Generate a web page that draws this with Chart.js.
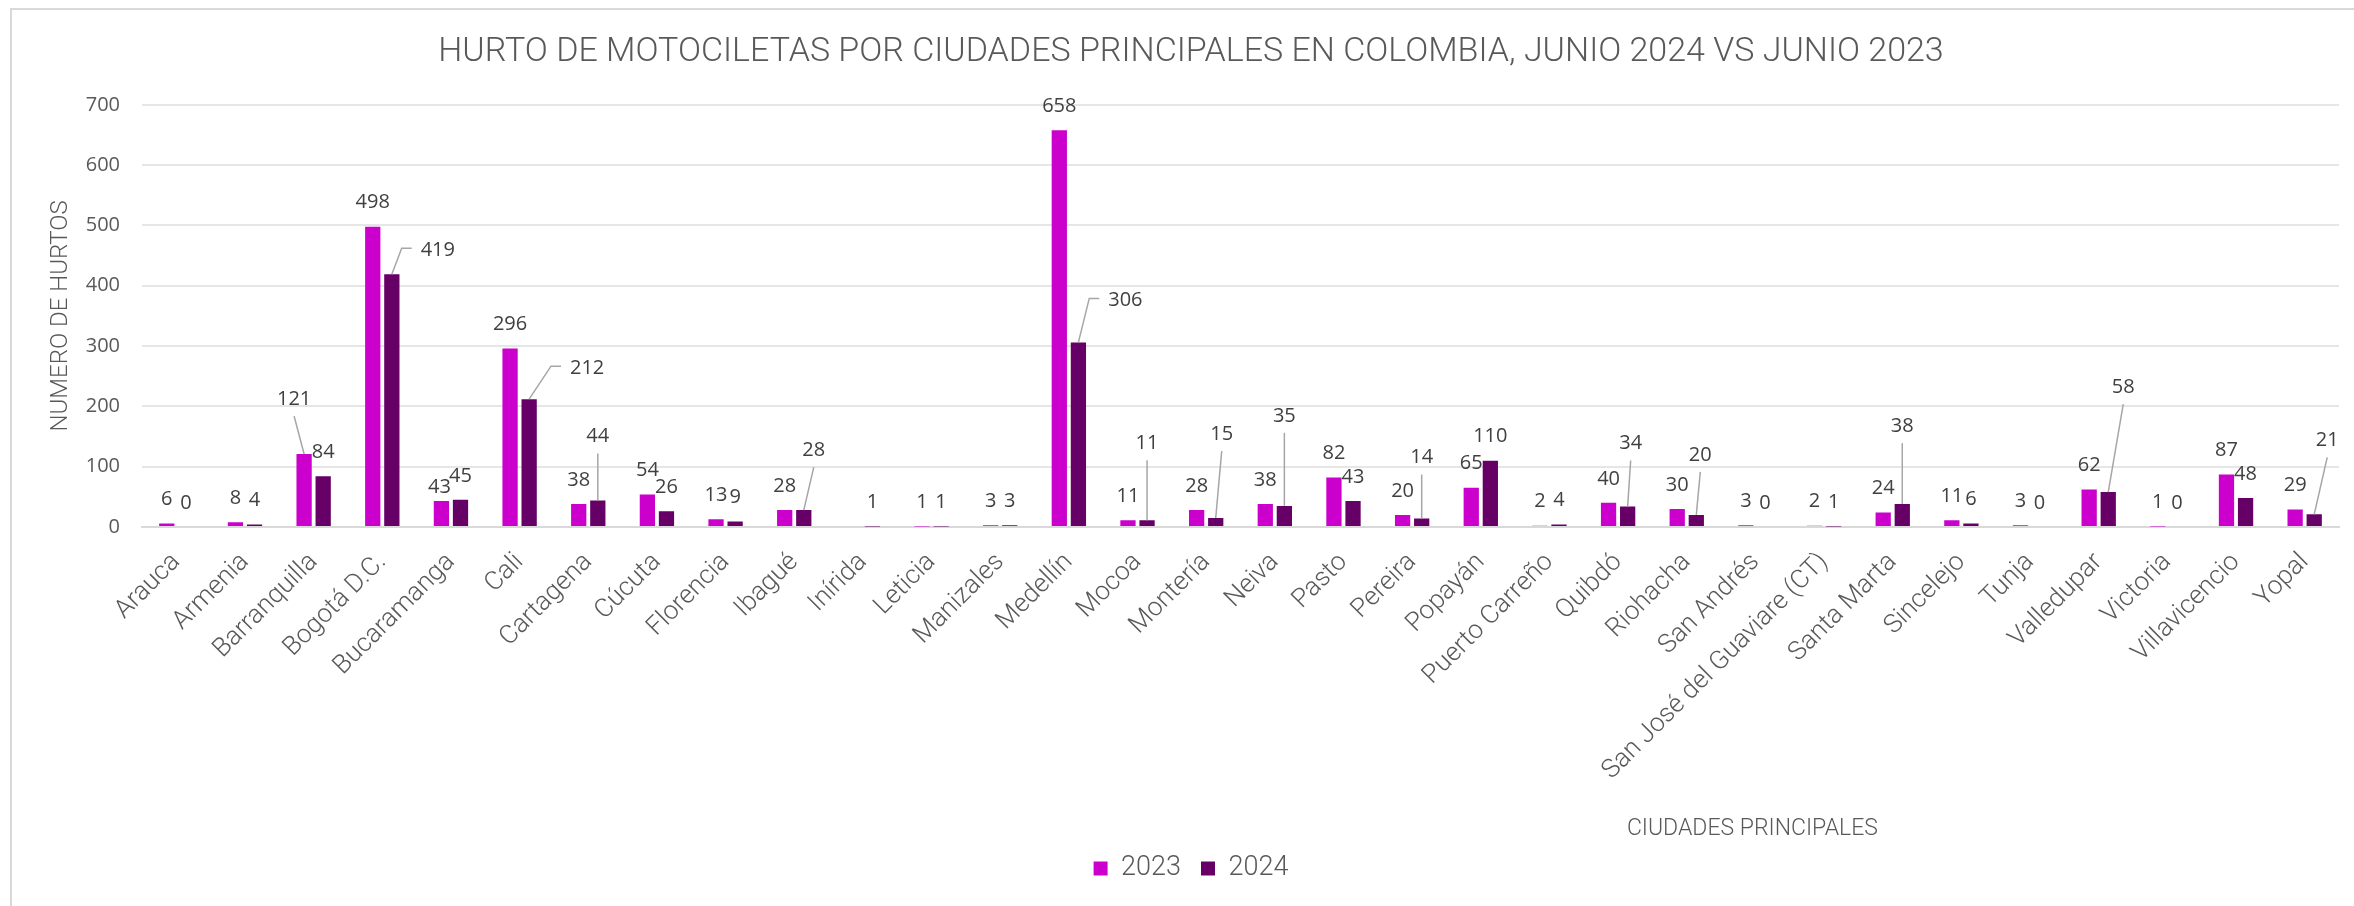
<!DOCTYPE html>
<html lang="es">
<head>
<meta charset="utf-8">
<title>Hurto de motocicletas por ciudades principales</title>
<script src="https://cdn.jsdelivr.net/npm/chart.js@4.4.1/dist/chart.umd.min.js"></script>
<style>
  html, body { margin: 0; padding: 0; background: #fff; overflow: hidden; }
  .frame { position: absolute; left: 10px; top: 8px; width: 2400px; height: 1000px; border: 2px solid #d9d9d9; }
  #chart { position: absolute; left: 0; top: 0; }
</style>
</head>
<body>
<div class="frame"></div>
<canvas id="chart" width="2354" height="906"></canvas>
<script>
const cities = [
  "Arauca", "Armenia", "Barranquilla", "Bogotá D.C.", "Bucaramanga", "Cali",
  "Cartagena", "Cúcuta", "Florencia", "Ibagué", "Inírida", "Leticia",
  "Manizales", "Medellín", "Mocoa", "Montería", "Neiva", "Pasto", "Pereira",
  "Popayán", "Puerto Carreño", "Quibdó", "Riohacha", "San Andrés",
  "San José del Guaviare (CT)", "Santa Marta", "Sincelejo", "Tunja",
  "Valledupar", "Victoria", "Villavicencio", "Yopal"
];
const hurtos2023 = [6, 8, 121, 498, 43, 296, 38, 54, 13, 28, null, 1, 3, 658, 11, 28,
  38, 82, 20, 65, 2, 40, 30, 3, 2, 24, 11, 3, 62, 1, 87, 29];
const hurtos2024 = [0, 4, 84, 419, 45, 212, 44, 26, 9, 28, 1, 1, 3, 306, 11, 15,
  35, 43, 14, 110, 4, 34, 20, 0, 1, 38, 6, 0, 58, 0, 48, 21];
const seriesNames = ["2023", "2024"];

const grey = "#595959";
const lightFont = "Roboto";

// labels moved by hand in the original: "dataset-index": [dx, dy, leader line]
const labelShift = {
  "0-2": [-10, -31, true],
  "0-4": [-2, 10, false],
  "1-3": [46, 0, true],
  "1-5": [58, -7, true],
  "1-6": [0, -40, true],
  "1-9": [10, -36, true],
  "1-13": [47, -18, true],
  "1-14": [0, -53, true],
  "1-15": [6, -60, true],
  "1-16": [0, -66, true],
  "1-18": [0, -37, true],
  "1-21": [3, -39, true],
  "1-22": [4, -36, true],
  "1-25": [0, -54, true],
  "1-28": [15, -81, true],
  "1-31": [13, -50, true]
};

const barLabels = {
  id: "barLabels",
  afterDatasetsDraw(chart) {
    const ctx = chart.ctx;
    ctx.save();
    ctx.font = "20px 'Open Sans'";
    ctx.textAlign = "center";
    ctx.textBaseline = "middle";
    chart.data.datasets.forEach((ds, di) => {
      chart.getDatasetMeta(di).data.forEach((bar, i) => {
        const v = ds.data[i];
        if (v === null || v === undefined) return;
        const [dx, dy, leader] = labelShift[di + "-" + i] || [0, 0, false];
        const lx = bar.x + dx;
        const ly = bar.y - 24 + dy;
        if (leader) {
          ctx.strokeStyle = "#a6a6a6";
          ctx.lineWidth = 1.5;
          ctx.beginPath();
          if (Math.abs(dx) > 25) {
            const left = lx - ctx.measureText(String(v)).width / 2;
            ctx.moveTo(bar.x, bar.y);
            ctx.lineTo(left - 19, ly - 2);
            ctx.lineTo(left - 9, ly - 2);
          } else {
            ctx.moveTo(lx, ly + 17);
            ctx.lineTo(bar.x, bar.y);
          }
          ctx.stroke();
        }
        ctx.fillStyle = "#404040";
        ctx.fillText(String(v), lx, ly);
      });
    });
    ctx.restore();
  }
};

// x axis title sits right of centre in the original
const axisCaption = {
  id: "axisCaption",
  afterDraw(chart) {
    const { ctx, chartArea } = chart;
    ctx.save();
    ctx.font = "300 23px " + lightFont;
    ctx.fillStyle = grey;
    ctx.textAlign = "center";
    ctx.textBaseline = "middle";
    ctx.fillText("CIUDADES PRINCIPALES",
      chartArea.left + (chartArea.right - chartArea.left) * 0.733, chartArea.bottom + 302);
    ctx.restore();
  }
};

new Chart(document.getElementById("chart"), {
  type: "bar",
  data: {
    labels: cities,
    datasets: [
      { label: seriesNames[0], data: hurtos2023, backgroundColor: "#cc00cc" },
      { label: seriesNames[1], data: hurtos2024, backgroundColor: "#660066" }
    ]
  },
  options: {
    responsive: false,
    animation: false,
    layout: { padding: { left: 43, right: 15, top: 0, bottom: 14 } },
    datasets: { bar: { categoryPercentage: 0.556, barPercentage: 0.8 } },
    plugins: {
      title: {
        display: true,
        text: "HURTO DE MOTOCILETAS POR CIUDADES PRINCIPALES EN COLOMBIA, JUNIO 2024 VS JUNIO 2023",
        color: grey,
        font: { family: lightFont, weight: "300", size: 34 },
        padding: { top: 32, bottom: 32 }
      },
      legend: {
        position: "bottom",
        labels: {
          boxWidth: 14,
          boxHeight: 14,
          padding: 20,
          color: grey,
          font: { family: lightFont, weight: "300", size: 27 }
        }
      },
      tooltip: { enabled: false }
    },
    scales: {
      x: {
        grid: { display: false },
        border: { display: true, color: "#d9d9d9", width: 2 },
        ticks: {
          autoSkip: false,
          minRotation: 45,
          maxRotation: 45,
          padding: 12,
          color: grey,
          font: { family: lightFont, weight: "300", size: 26 }
        },
        afterFit(scale) { scale.height = 308; }
      },
      y: {
        min: 0,
        max: 700,
        grid: { color: "#e6e6e6", lineWidth: 2, drawTicks: false },
        border: { display: false },
        ticks: {
          stepSize: 100,
          padding: 22,
          color: grey,
          font: { family: "'Open Sans'", size: 20 }
        },
        title: {
          display: true,
          text: "NUMERO DE HURTOS",
          color: grey,
          font: { family: lightFont, weight: "300", size: 24 },
          padding: { top: 4, bottom: 0 }
        },
        afterFit(scale) { scale.width = 99; }
      }
    }
  },
  plugins: [barLabels, axisCaption]
});
</script>
</body>
</html>
